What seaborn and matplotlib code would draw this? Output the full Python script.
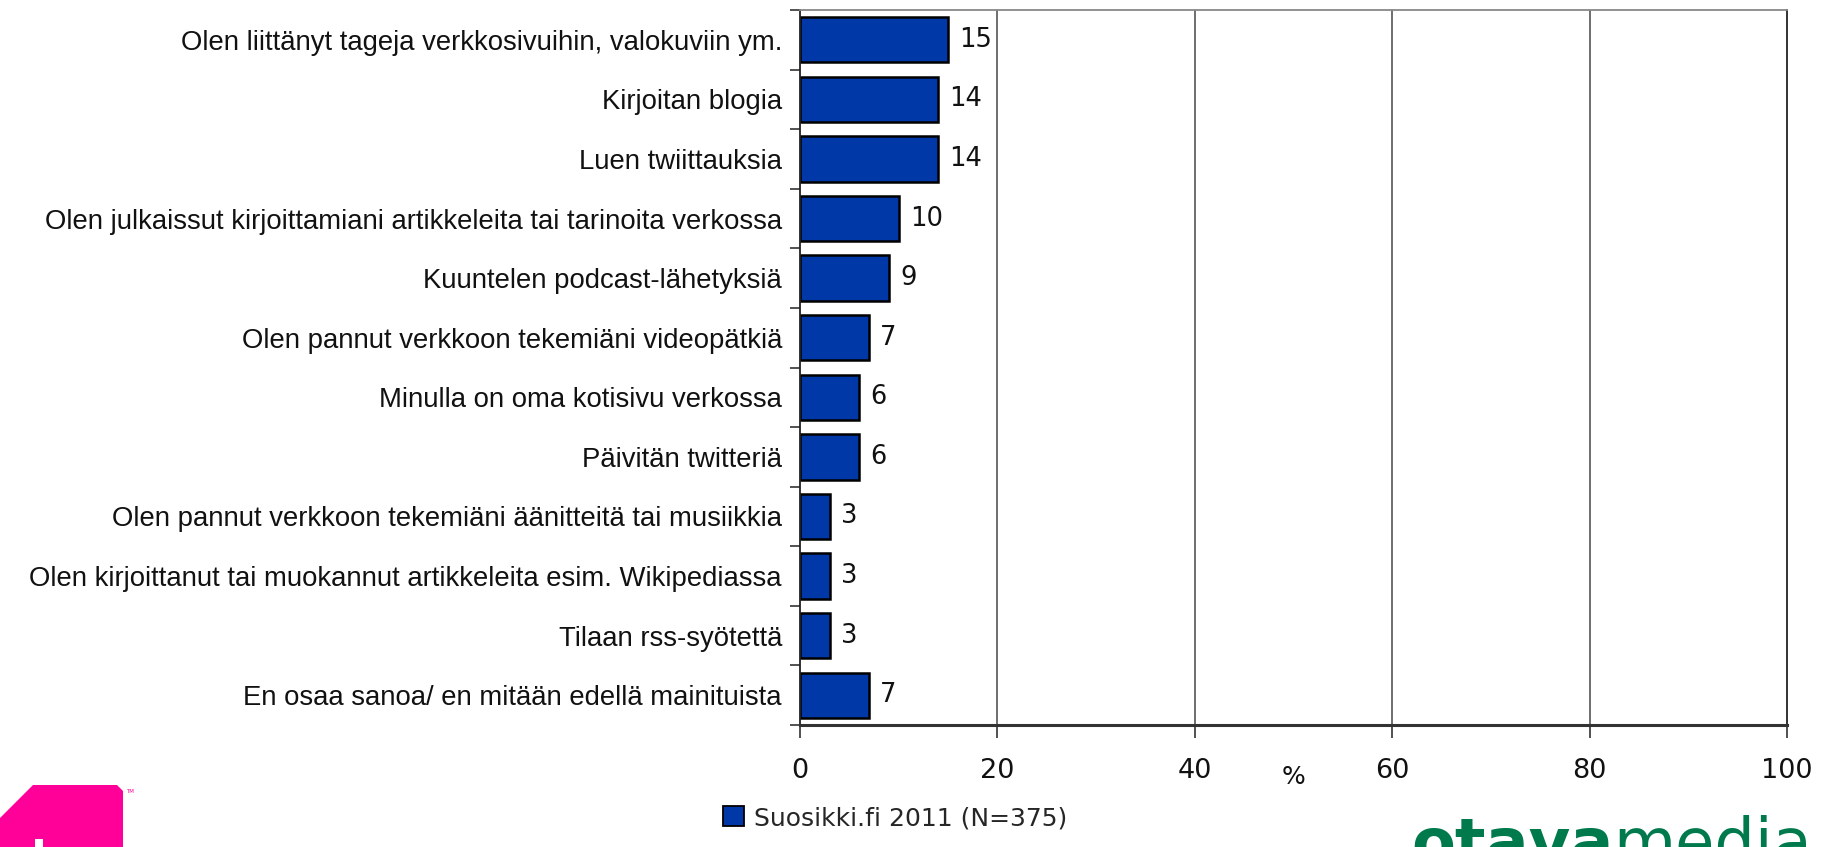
import matplotlib
matplotlib.use("Agg")
import matplotlib.pyplot as plt
import seaborn as sns
import pandas as pd
from matplotlib.patches import Polygon, Patch
from matplotlib.ticker import FixedLocator

categories = [
    "Olen liittänyt tageja verkkosivuihin, valokuviin ym.",
    "Kirjoitan blogia",
    "Luen twiittauksia",
    "Olen julkaissut kirjoittamiani artikkeleita tai tarinoita verkossa",
    "Kuuntelen podcast-lähetyksiä",
    "Olen pannut verkkoon tekemiäni videopätkiä",
    "Minulla on oma kotisivu verkossa",
    "Päivitän twitteriä",
    "Olen pannut verkkoon tekemiäni äänitteitä tai musiikkia",
    "Olen kirjoittanut tai muokannut artikkeleita esim. Wikipediassa",
    "Tilaan rss-syötettä",
    "En osaa sanoa/ en mitään edellä mainituista",
]
values = [15, 14, 14, 10, 9, 7, 6, 6, 3, 3, 3, 7]
series_name = "Suosikki.fi 2011 (N=375)"
x_ticks = [0, 20, 40, 60, 80, 100]
x_label = "%"

sns.set_theme(style="white")
plt.rcParams["font.family"] = ["DejaVu Sans"]

W, H = 1829, 847
fig = plt.figure(figsize=(W / 100, H / 100), dpi=100)
ax = fig.add_axes([800 / W, 1 - 725 / H, 987 / W, 715 / H])

df = pd.DataFrame({"cat": categories, "val": values, "series": series_name})
bar_color = "#0038A8"
sns.barplot(data=df, y="cat", x="val", hue="series", palette=[bar_color],
            orient="h", width=0.76, edgecolor="black", linewidth=1.8,
            saturation=1, ax=ax, legend=True)

ax.set_xlim(0, 100)
ax.set_ylim(len(categories) - 0.5, -0.5)
ax.set_xticks(x_ticks)
ax.set_xticklabels([str(t) for t in x_ticks], fontsize=19.5, color="#111111")
ax.tick_params(axis="x", direction="out", length=9, width=1.2, color="#333333", pad=15, bottom=True)

# category labels
ax.set_yticks(range(len(categories)))
ax.set_yticklabels(categories, fontsize=19.8, family=["Liberation Sans", "DejaVu Sans"], color="#111111")
ax.tick_params(axis="y", which="major", length=0, pad=13)
ax.yaxis.set_minor_locator(FixedLocator([i - 0.5 for i in range(len(categories) + 1)]))
ax.tick_params(axis="y", which="minor", direction="out", length=7, width=1.2, color="#333333", left=True)

ax.set_ylabel("")
ax.set_xlabel(x_label, fontsize=18, color="#111111")
ax.xaxis.set_label_coords(0.5, -0.056)

# grid
ax.grid(False)
for t in x_ticks[1:-1]:
    ax.axvline(t, color="#555555", linewidth=1.2, zorder=0)

for side, sp in ax.spines.items():
    sp.set_visible(True)
ax.spines["top"].set_color("#888888")
ax.spines["top"].set_linewidth(1.3)
ax.spines["right"].set_color("#222222")
ax.spines["right"].set_linewidth(1.3)
ax.spines["left"].set_color("#222222")
ax.spines["left"].set_linewidth(1.3)
ax.spines["bottom"].set_color("#333333")
ax.spines["bottom"].set_linewidth(2.2)

for cont in ax.containers:
    ax.bar_label(cont, fmt="%g", padding=8, fontsize=18.5, color="#111111")

# legend
leg = ax.get_legend()
if leg is not None:
    leg.remove()
handle = Patch(facecolor=bar_color, edgecolor="black", linewidth=1.3)
fig.legend([handle], [series_name], loc="center", bbox_to_anchor=(895 / W, 1 - 818 / H),
           frameon=False, fontsize=18, handlelength=0.85, handleheight=0.85, handletextpad=0.4)

# logos (decorative)
def fp(pts):
    return [(x / W, 1 - y / H) for x, y in pts]

pink = "#FF0099"
logo = Polygon(fp([(0, 818), (33, 785), (117, 785), (123, 791), (123, 850), (0, 850)]),
               closed=True, transform=fig.transFigure, facecolor=pink, edgecolor="none")
fig.patches.append(logo)
white_bar = Polygon(fp([(35, 839), (43, 839), (43, 850), (35, 850)]), closed=True,
                    transform=fig.transFigure, facecolor="white", edgecolor="none")
fig.patches.append(white_bar)
fig.text(126 / W, 1 - 791 / H, "TM", fontsize=4, color=pink, va="center", ha="left")

green = "#007A4D"
t1 = fig.text(1411 / W, 1 - 864 / H, "otava", fontsize=46, fontweight="bold", color=green,
              ha="left", va="baseline")
fig.canvas.draw()
bb = t1.get_window_extent(renderer=fig.canvas.get_renderer())
fig.text(bb.x1 / W, 1 - 864 / H, "media", fontsize=46, color=green, ha="left", va="baseline")

fig.savefig("out.png", dpi=100)
